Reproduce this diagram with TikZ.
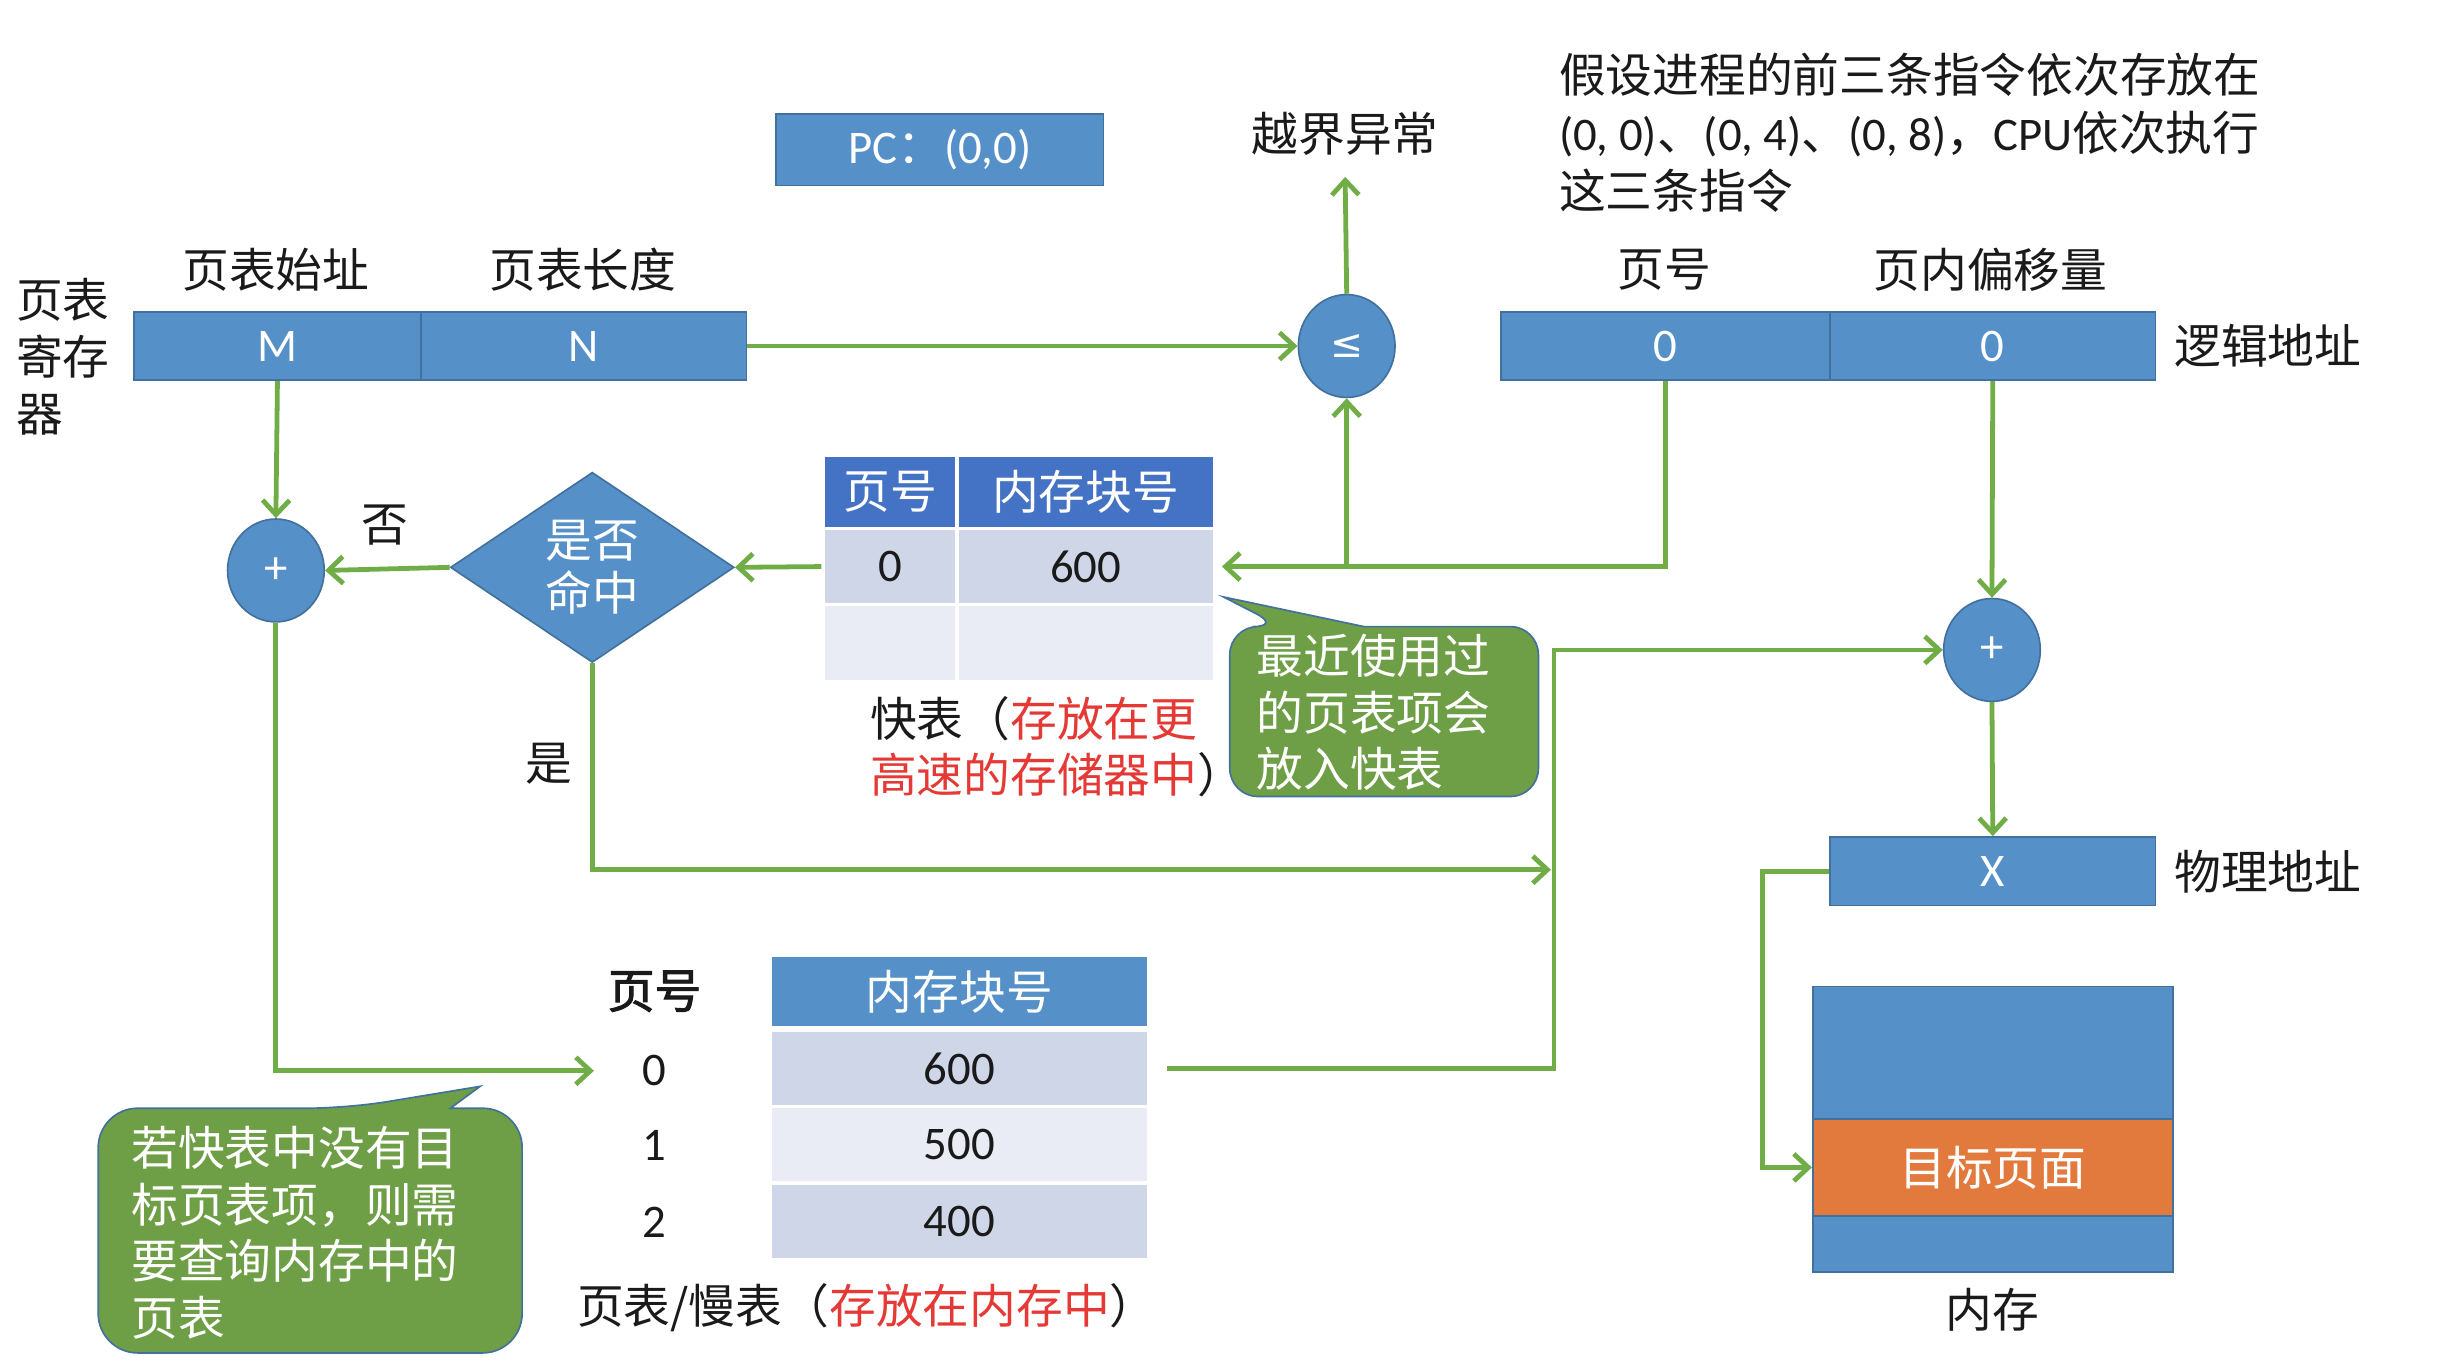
\documentclass[tikz,border=0pt]{standalone}
\usepackage{fontspec}
\setmainfont{Carlito}
\newfontfamily\cjk{Noto Sans CJK SC}
\newfontfamily\cjkbold[FakeBold=2]{Noto Sans CJK SC}
\newfontfamily\dvs{DejaVu Sans}
\usetikzlibrary{arrows.meta,shapes.geometric}
\definecolor{boxblue}{HTML}{5690C8}
\definecolor{boxedge}{HTML}{41719C}
\definecolor{hdrblue}{HTML}{4472C4}
\definecolor{rowA}{HTML}{CFD6E8}
\definecolor{rowB}{HTML}{E9ECF4}
\definecolor{lgreen}{HTML}{70AD47}
\definecolor{cgreen}{HTML}{6E9E46}
\definecolor{cedge}{HTML}{41719C}
\definecolor{orangeband}{HTML}{E27A3E}
\definecolor{tred}{HTML}{E53935}
\definecolor{txt}{HTML}{1A1A1A}
\newcommand\zh{\cjk\fontsize{22.5}{27.3}\selectfont}
\newcommand\latf{\rmfamily\fontsize{22.5}{27.3}\selectfont}
\newcommand\cellbox[7]{%
  \pgfmathsetmacro\mycw{(#4-#2)*0.75}%
  \pgfmathsetmacro\mych{(#5-#3)*0.75}%
  \node[#6, minimum width=\mycw pt, minimum height=\mych pt, inner sep=0pt] (#1) at ({(#2+#4)/2},{(#3+#5)/2}) {#7};}
\begin{document}
\begin{tikzpicture}[x=0.75pt,y=-0.75pt,
  blk/.style={draw=boxedge,fill=boxblue,line width=0.8pt,text=white,font=\latf},
  orangebox/.style={draw=boxedge,fill=orangeband,line width=0.8pt,text=white,font=\zh},
  hdr/.style={draw=white,line width=1.5pt,fill=hdrblue,text=white,font=\zh},
  hdrb/.style={draw=white,line width=1.5pt,fill=boxblue,text=white,font=\zh},
  rowa/.style={draw=white,line width=1.5pt,fill=rowA,text=txt,font=\latf},
  rowb/.style={draw=white,line width=1.5pt,fill=rowB,text=txt,font=\latf},
  lbl/.style={font=\zh,text=txt,inner sep=0pt},
  numlbl/.style={font=\latf,text=txt,inner sep=0pt},
  circ/.style={ellipse,draw=boxedge,fill=boxblue,line width=0.8pt,text=white,minimum width=46.5pt,minimum height=49.5pt,inner sep=0pt,font=\latf},
  dia/.style={diamond,draw=boxedge,fill=boxblue,line width=0.8pt,text=white,minimum width=136.5pt,minimum height=91.5pt,inner sep=0pt,aspect=1.5,align=center,font=\cjk\fontsize{22.5}{25.5}\selectfont},
  conn/.style={draw=lgreen,line width=2.3pt,-{Straight Barb[length=7pt,width=13pt]}},
  bubble/.style={draw=cedge,fill=cgreen,line width=0.8pt},
  ctext/.style={font=\zh,text=white,inner sep=0pt,align=left}]
\useasboundingbox (0,0) rectangle (1568,880);
\fill[white] (0,0) rectangle (1568,880);

% PC box
\cellbox{pc}{498}{73}{708}{119}{blk}{PC{\cjk ：}(0,0)}

% top texts
\node[lbl] (exc) at (863,86) {越界异常};
\node[lbl,anchor=west,align=left,font=\cjk\fontsize{22.5}{27.8}\selectfont] (hyp) at (1000,85)
  {假设进程的前三条指令依次存放在\\{\rmfamily (0, 0)}、{\rmfamily (0, 4)}、{\rmfamily (0, 8)}，{\rmfamily CPU}依次执行\\这三条指令};

% page table register
\node[lbl,anchor=west,align=left,font=\cjk\fontsize{22.5}{27.4}\selectfont] (reg) at (10,229) {页表\\寄存\\器};
\node[lbl] (lstart) at (177,173) {页表始址};
\node[lbl] (llen) at (374,173) {页表长度};
\cellbox{M}{86}{200}{270}{244}{blk}{M}
\cellbox{N}{270}{200}{479}{244}{blk}{N}

% comparator
\node[circ] (le) at (864,222) {\dvs\fontsize{19}{22}\selectfont ≤};

% logical address
\node[lbl] (lpn) at (1068,173) {页号};
\node[lbl] (loff) at (1277,173) {页内偏移量};
\cellbox{pn}{963}{200}{1174}{244}{blk}{0}
\cellbox{off}{1174}{200}{1383}{244}{blk}{0}
\node[lbl] (laddr) at (1455,222) {逻辑地址};

% adder right
\node[circ] (plus2) at (1278,417) {+};
\cellbox{X}{1174}{537}{1383}{581}{blk}{X}
\node[lbl] (paddr) at (1455,559) {物理地址};

% memory
\cellbox{memtop}{1163}{633}{1394}{718}{blk}{}
\cellbox{target}{1163}{718}{1394}{780}{orangebox}{目标页面}
\cellbox{membot}{1163}{780}{1394}{816}{blk}{}
\node[lbl] (mem) at (1278,840) {内存};

% TLB
\cellbox{th1}{528}{292}{614}{339}{hdr}{页号}
\cellbox{th2}{614}{292}{779}{339}{hdr}{内存块号}
\cellbox{t1k}{528}{339}{614}{388}{rowa}{0}
\cellbox{t1v}{614}{339}{779}{388}{rowa}{600}
\cellbox{t2k}{528}{388}{614}{437}{rowb}{}
\cellbox{t2v}{614}{388}{779}{437}{rowb}{}
\node[lbl,anchor=west,align=left] (tlbcap) at (558,479)
  {快表（\textcolor{tred}{存放在更}\\\textcolor{tred}{高速的存储器中}）};

% diamond and left adder
\node[dia] (hit) at (380,364) {是否\\命中};
\node[circ] (plus1) at (177,366) {+};
\node[lbl] (no) at (247,337) {否};
\node[lbl] (yes) at (352,490) {是};

% page table in memory
\node[lbl,font=\cjkbold\fontsize{22.5}{27}\selectfont] (phk) at (420,636) {页号};
\cellbox{ph}{494}{613}{737}{659}{hdrb}{内存块号}
\cellbox{p0}{494}{661}{737}{710}{rowa}{600}
\cellbox{p1}{494}{710}{737}{759}{rowb}{500}
\cellbox{p2}{494}{759}{737}{808}{rowa}{400}
\node[numlbl] (l0) at (420,687) {0};
\node[numlbl] (l1) at (420,735) {1};
\node[numlbl] (l2) at (420,784) {2};
\node[lbl,anchor=west] (ptcap) at (370,839) {页表/慢表（\textcolor{tred}{存放在内存中}）};

% callouts
\draw[bubble] (875,402) [rounded corners=13.5pt] -- (987,402) -- (987,511) -- (789,511) -- (789,402) -- (822,402) [sharp corners] -- (785,383) -- cycle;
\node[ctext,anchor=west] (c1) at (806,457) {最近使用过\\的页表项会\\放入快表};
\draw[bubble] (289,711) [rounded corners=19pt] -- (335,711) -- (335,868) -- (63,868) -- (63,711) -- (223,711) [sharp corners] -- (308,697) -- cycle;
\node[ctext,anchor=west] (c2) at (84,791) {若快表中没有目\\标页表项，则需\\要查询内存中的\\页表};

% connectors
\coordinate (xl) at (1131,559);
\coordinate (ptin) at (381,687);
\coordinate (yesend) at (995,558);
\coordinate (jtop) at (997,417);
\draw[conn] (N.east) -- (le.west);
\draw[conn] (le.north) -- ([yshift=-10pt]exc.south);
\draw[conn] (pn.south) |- ([xshift=3pt]t1v.east);
\draw[conn] (le.south |- t1v.east) -- (le.south);
\draw[conn] (off.south) -- (plus2.north);
\draw[conn] (plus2.south) -- (X.north);
\draw[conn] (X.west) -- (xl) |- (target.west);
\draw[conn] (t1k.west) -- (hit.east);
\draw[conn] (hit.west) -- (plus1.east);
\draw[conn] (M.south) -- (plus1.north);
\draw[conn] (plus1.south) |- (ptin);
\draw[conn] (hit.south) |- (yesend);
\draw[conn] ([xshift=8pt]p0.east) -| (jtop) -- (plus2.west);
\end{tikzpicture}
\end{document}
